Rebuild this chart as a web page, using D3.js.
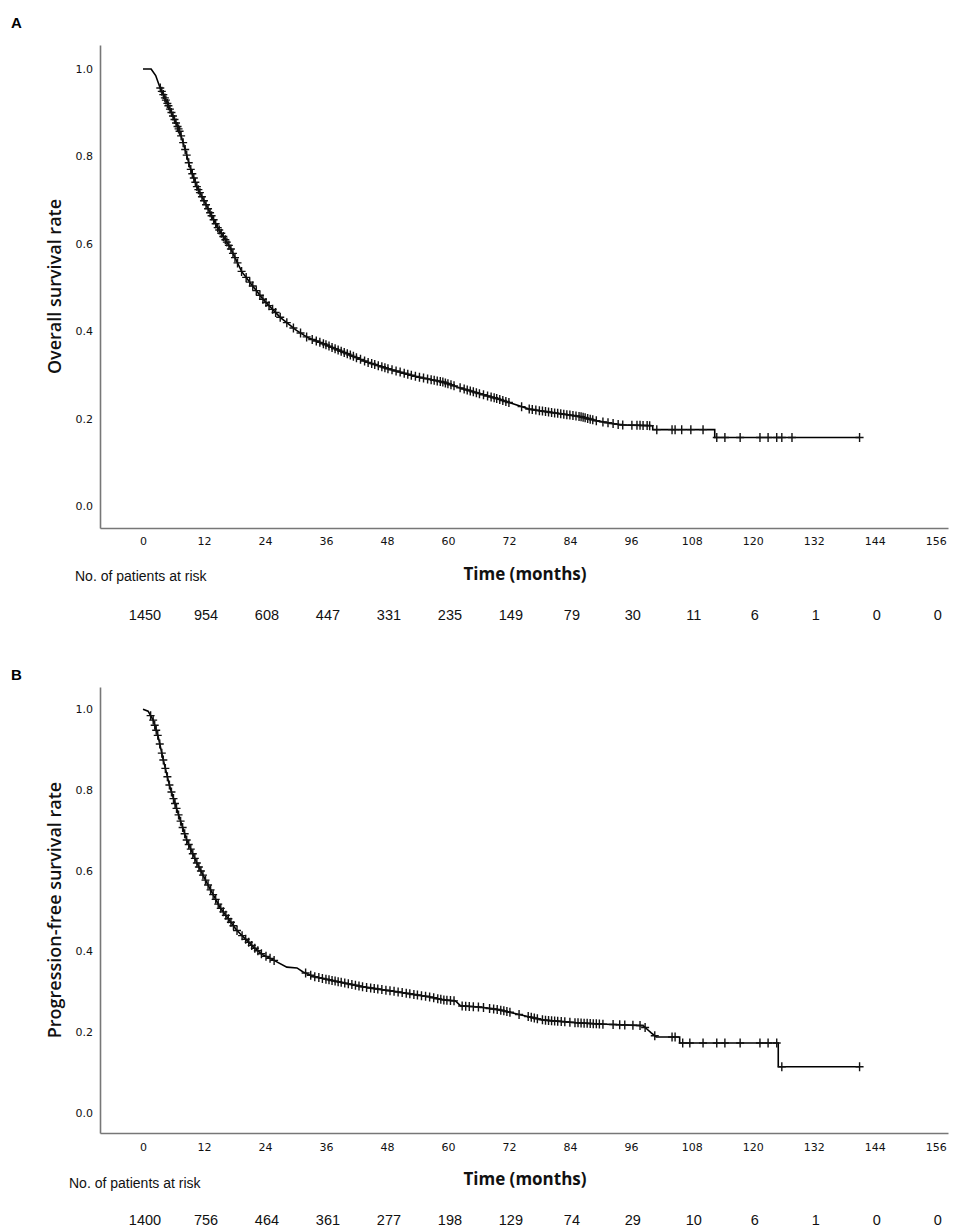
<!DOCTYPE html>
<html>
<head>
<meta charset="utf-8">
<script src="https://cdn.jsdelivr.net/npm/d3@7"></script>
<style>
  body { margin: 0; background: #fff; }
  svg { display: block; }
</style>
</head>
<body>
<svg id="chart" width="957" height="1230"></svg>
<script>
// ---- data ----
let timeTicks = [0, 12, 24, 36, 48, 60, 72, 84, 96, 108, 120, 132, 144, 156];
let survTicks = [0.0, 0.2, 0.4, 0.6, 0.8, 1.0];

let riskA = [1450, 954, 608, 447, 331, 235, 149, 79, 30, 11, 6, 1, 0, 0];
let riskB = [1400, 756, 464, 361, 277, 198, 129, 74, 29, 10, 6, 1, 0, 0];

// overall survival curve (months, rate)
let osTime = [0, 1.6, 2.5, 3.3, 4.7, 6.0, 7.3, 8.3, 9.2, 10.6, 12.6, 14.6, 17.1, 19.4, 21.5, 23.7,
  27.0, 30.2, 32.5, 35.4, 40.1, 44.0, 48.0, 53.9, 59.0, 62.0, 66.3, 70.0, 72.8, 76.0, 80.0,
  86.0, 89.3, 94.0, 100.3, 100.3, 112.5, 112.5, 141];
let osSurv = [1.0, 1.0, 0.985, 0.959, 0.924, 0.89, 0.855, 0.816, 0.777, 0.731, 0.685, 0.639, 0.593, 0.537, 0.505, 0.472,
  0.432, 0.402, 0.385, 0.372, 0.349, 0.330, 0.315, 0.296, 0.284, 0.272, 0.257, 0.245, 0.234, 0.222, 0.215,
  0.205, 0.195, 0.186, 0.184, 0.175, 0.175, 0.157, 0.157];
let osCensor = [3.4, 3.7, 4.0, 4.3, 4.5, 4.8, 5.0, 5.3, 5.6, 5.9, 6.2, 6.5, 6.8, 7.0, 7.2, 7.5, 7.9, 8.3,
  8.6, 9.0, 9.4, 9.7, 10.0, 10.3, 10.6, 10.9, 11.2, 11.6, 12.0, 12.4, 12.8, 13.2, 13.5, 13.9, 14.3,
  14.7, 15.0, 15.4, 15.8, 16.2, 16.5, 16.9, 17.3, 17.7, 18.1, 18.6, 19.4, 20.3, 21.0, 21.6, 22.3,
  23.0, 23.6, 24.2, 24.8, 25.5, 26.1, 27.0, 28.3, 29.6, 31.0, 32.2, 33.3, 34.1, 34.8, 35.5, 36.0,
  36.6, 37.2, 37.8, 38.4, 39.0, 39.6, 40.2, 40.8, 41.4, 42.0, 42.8, 43.6, 44.3, 45.0, 45.6, 46.3,
  47.0, 47.6, 48.2, 49.0, 49.8, 50.6, 51.4, 52.1, 52.8, 53.6, 54.4, 55.2, 56.0, 56.7, 57.3, 57.9,
  58.5, 59.0, 59.5, 60.0, 60.6, 61.2, 62.4, 63.2, 63.8, 64.4, 65.0, 65.6, 66.2, 67.0, 67.8, 68.5,
  69.1, 69.6, 70.2, 70.8, 71.4, 72.0, 74.5, 76.0, 76.6, 77.3, 78.0, 78.6, 79.2, 79.8, 80.4, 81.0,
  81.6, 82.2, 82.8, 83.4, 84.0, 84.6, 85.2, 85.8, 86.2, 86.6, 87.0, 87.5, 88.0, 88.5, 89.2, 90.5,
  91.5, 92.5, 93.5, 94.4, 96.2, 97.2, 97.8, 98.4, 99.2, 99.7, 101.1, 104.1, 104.7, 106.0, 107.8,
  110.2, 112.9, 114.5, 117.5, 121.4, 123.0, 124.7, 125.7, 127.7, 141];

// progression-free survival curve
let pfsTime = [0, 1.0, 2.0, 3.0, 4.0, 5.3, 6.9, 8.6, 10.6, 12.6, 15.1, 18.4, 21.7, 23.5, 25.6, 28.3,
  30.3, 31.5, 33.5, 36.8, 43.3, 49.9, 56.5, 59.0, 61.5, 62.5, 66.3, 70.2, 74.2, 78.7, 85.4, 89.9,
  98.4, 99.2, 100.0, 101.0, 105.6, 105.6, 125.0, 125.0, 141];
let pfsSurv = [1.0, 0.995, 0.973, 0.931, 0.874, 0.807, 0.742, 0.676, 0.619, 0.569, 0.510, 0.453, 0.411, 0.392, 0.379, 0.361,
  0.359, 0.349, 0.338, 0.329, 0.312, 0.300, 0.287, 0.280, 0.277, 0.265, 0.262, 0.255, 0.243, 0.230, 0.223, 0.220,
  0.216, 0.207, 0.198, 0.188, 0.188, 0.173, 0.173, 0.114, 0.114];
let pfsCensor = [1.5, 2.0, 2.3, 2.6, 2.9, 3.3, 3.7, 4.0, 4.4, 4.8, 5.2, 5.6, 6.0, 6.3, 6.6, 7.0, 7.4,
  7.8, 8.2, 8.6, 9.0, 9.4, 9.8, 10.2, 10.6, 11.0, 11.4, 11.8, 12.3, 12.8, 13.3, 13.8, 14.3, 14.8,
  15.3, 15.8, 16.3, 16.8, 17.3, 17.8, 18.5, 19.5, 20.2, 20.8, 21.4, 22.0, 22.6, 23.3, 24.2, 25.0,
  25.8, 32.0, 33.0, 33.8, 34.6, 35.3, 36.0, 36.6, 37.2, 37.8, 38.4, 39.0, 39.7, 40.4, 41.1, 41.8,
  42.5, 43.2, 44.0, 44.8, 45.5, 46.2, 47.0, 47.8, 48.6, 49.4, 50.2, 51.0, 51.8, 52.5, 53.3, 54.0,
  54.8, 55.6, 56.4, 57.2, 58.0, 58.6, 59.2, 59.8, 60.5, 61.2, 62.8, 63.5, 64.2, 65.0, 66.0, 67.0,
  68.2, 69.0, 69.7, 70.4, 71.0, 71.6, 72.2, 74.0, 75.8, 76.4, 77.0, 77.6, 78.6, 79.2, 79.8, 80.4,
  81.0, 81.6, 82.3, 83.0, 84.0, 85.0, 85.6, 86.2, 86.8, 87.4, 88.0, 88.6, 89.2, 89.8, 90.5, 92.5,
  93.8, 94.8, 96.4, 97.8, 98.8, 100.7, 104.1, 104.7, 106.2, 107.6, 110.2, 112.9, 114.5, 117.5,
  121.4, 123.0, 124.7, 125.7, 141];

let svg = d3.select("#chart");

// rate on the drawn curve at a censoring time
function rateAt(times, rates, t) {
    for(let i = times.length - 2; i >= 0; i--) {
        if(times[i] <= t && times[i+1] >= t && times[i+1] > times[i]) {
            let f = (t - times[i]) / (times[i+1] - times[i]);
            return rates[i] + f * (rates[i+1] - rates[i]);
        }
    }
    return rates[rates.length - 1];
}

function drawPanel(p) {

    let x = d3.scaleLinear().domain([-8.46, 158.4]).range([100, 948]);
    let y = d3.scaleLinear().domain([-0.05, 1.055]).range([p.bottom, p.top]);

    let g = svg.append("g");

    // panel letter
    g.append("text")
        .attr("x", 11).attr("y", p.letterY)
        .style("font-family", "'Liberation Sans', Arial, sans-serif")
        .style("font-weight", "bold")
        .style("font-size", "15px")
        .text(p.letter);

    // axes
    let xAxis = g.append("g")
        .attr("transform", "translate(0," + p.bottom + ")")
        .call(d3.axisBottom(x).tickValues(timeTicks).tickSize(0).tickSizeOuter(0).tickPadding(p.xPad));

    let yAxis = g.append("g")
        .attr("transform", "translate(100,0)")
        .call(d3.axisLeft(y).tickValues(survTicks).tickFormat(d3.format(".1f")).tickSize(0).tickSizeOuter(0).tickPadding(7));

    for(let ax of [xAxis, yAxis]) {
        ax.select(".domain").attr("stroke", "#777").attr("stroke-width", 1.6);
        ax.selectAll("text")
            .attr("fill", "#111")
            .style("font-family", "'DejaVu Sans', Verdana, sans-serif")
            .style("font-size", "11px");
    }

    // y title
    g.append("text")
        .attr("transform", "translate(61," + ((p.top + p.bottom) / 2) + ") rotate(-90)")
        .attr("text-anchor", "middle")
        .style("font-family", "'Open Sans', sans-serif")
        .style("font-weight", 600)
        .style("font-size", "18px")
        .attr("fill", "#111")
        .text(p.yTitle);

    // x title
    g.append("text")
        .attr("x", 525).attr("y", p.xTitleY)
        .attr("text-anchor", "middle")
        .style("font-family", "'Open Sans', sans-serif")
        .style("font-weight", "bold")
        .style("font-size", "17px")
        .attr("fill", "#111")
        .text("Time (months)");

    // risk table
    g.append("text")
        .attr("x", p.riskLabelX).attr("y", p.riskLabelY)
        .style("font-family", "'Liberation Sans', Arial, sans-serif")
        .style("font-size", "14px")
        .attr("fill", "#111")
        .text("No. of patients at risk");

    g.selectAll(".risk")
        .data(p.risk).enter()
        .append("text")
        .attr("class", "risk")
        .attr("x", (d, i) => x(timeTicks[i]) + 2)
        .attr("y", p.riskY)
        .attr("text-anchor", "middle")
        .style("font-family", "'Liberation Sans', Arial, sans-serif")
        .style("font-size", "14.5px")
        .attr("fill", "#111")
        .text(d => d);

    // survival curve
    let pts = p.time.map((t, i) => [t, p.surv[i]]);
    let line = d3.line().x(d => x(d[0])).y(d => y(d[1]));

    g.append("path")
        .datum(pts)
        .attr("d", line)
        .attr("fill", "none")
        .attr("stroke", "#000")
        .attr("stroke-width", 1.6);

    // censor marks
    g.selectAll(".cens")
        .data(p.censor).enter()
        .append("path")
        .attr("class", "cens")
        .attr("transform", d => "translate(" + x(d) + "," + y(rateAt(p.time, p.surv, d)) + ")")
        .attr("d", "M-4,0H4M0,-4.5V4.5")
        .attr("stroke", "#111")
        .attr("stroke-width", 1.4)
        .attr("fill", "none");
}

drawPanel({
    letter: "A", letterY: 28,
    top: 45, bottom: 528, xPad: 9,
    yTitle: "Overall survival rate",
    xTitleY: 580,
    riskLabelX: 75, riskLabelY: 581, riskY: 620,
    risk: riskA,
    time: osTime, surv: osSurv, censor: osCensor
});

drawPanel({
    letter: "B", letterY: 680,
    top: 687, bottom: 1133, xPad: 10,
    yTitle: "Progression-free survival rate",
    xTitleY: 1185,
    riskLabelX: 69, riskLabelY: 1188, riskY: 1225,
    risk: riskB,
    time: pfsTime, surv: pfsSurv, censor: pfsCensor
});
</script>
</body>
</html>
